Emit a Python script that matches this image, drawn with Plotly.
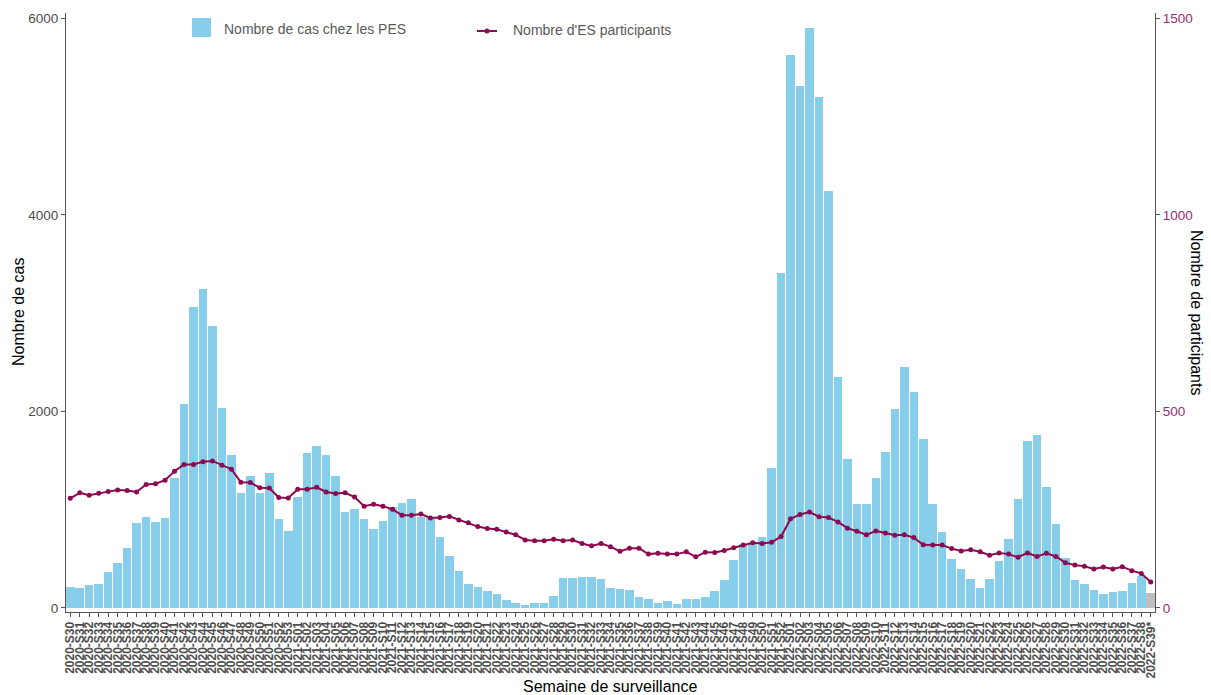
import plotly.graph_objects as go

# Surveillance weeks: 2020-S30 .. 2020-S53, 2021-S01 .. 2021-S52, 2022-S01 .. 2022-S39 (provisional)
weeks = ([f"2020-S{w:02d}" for w in range(30, 54)]
         + [f"2021-S{w:02d}" for w in range(1, 53)]
         + [f"2022-S{w:02d}" for w in range(1, 39)]
         + ["2022-S39*"])

# Weekly number of cases among staff (PES)
cases = [
    215, 205, 234, 244, 366, 454, 613, 868, 929, 875,
    912, 1320, 2072, 3058, 3244, 2865, 2037, 1556, 1166, 1342,
    1166, 1370, 905, 780,
    1129, 1580, 1651, 1556, 1342, 973, 1007, 908, 807, 885,
    1030, 1071, 1105, 922, 912, 725, 532, 376, 244, 214,
    173, 139, 78, 51, 31, 51, 51, 122, 305, 305,
    315, 315, 295, 200, 190, 183, 112, 95, 51, 68,
    41, 95, 95, 112, 173, 285, 488, 650, 650, 722,
    1428, 3404,
    5625, 5310, 5905, 5196, 4240, 2350, 1520, 1055, 1055, 1325,
    1583, 2026, 2455, 2200, 1724, 1055, 773, 499, 399, 290,
    201, 294, 473, 700, 1108, 1698, 1758, 1234, 853, 510,
    282, 245, 184, 139, 167, 177, 252, 330, 156,
]

# Weekly number of participating facilities (ES)
participants = [
    279, 293, 287, 292, 296, 300, 299, 295, 314, 316,
    325, 348, 365, 365, 372, 374, 363, 353, 320, 319,
    306, 305, 281, 280,
    302, 302, 307, 295, 291, 293, 282, 259, 264, 259,
    251, 236, 236, 239, 229, 230, 233, 224, 217, 207,
    202, 200, 193, 186, 173, 171, 171, 175, 171, 173,
    164, 158, 164, 156, 144, 152, 152, 137, 139, 137,
    137, 143, 130, 142, 141, 146, 153, 160, 166, 164,
    167, 182,
    227, 238, 244, 232, 230, 219, 203, 195, 186, 196,
    191, 185, 186, 179, 161, 160, 160, 151, 145, 148,
    143, 134, 140, 137, 129, 140, 131, 139, 131, 115,
    109, 106, 99, 104, 99, 105, 95, 88, 66,
]

x_idx = list(range(len(weeks)))

BAR_BLUE = "#87CEEB"
BAR_GREY = "#BEBEBE"
LINE_COL = "#8B0A50"
AXIS_COL = "#4D4D4D"
FONT = "Liberation Sans, Arial, sans-serif"

bar_colors = [BAR_BLUE] * (len(weeks) - 1) + [BAR_GREY]

W, H = 1211, 695
L, R, T, B = 66, 56, 13, 83
plot_w = W - L - R
plot_h = H - T - B


def px_x(p):
    return (p - L) / plot_w


def px_y(p):
    return 1 - (p - T) / plot_h


fig = go.Figure()

fig.add_trace(go.Bar(
    x=x_idx, y=cases, width=0.9,
    marker=dict(color=bar_colors, line=dict(width=0)),
    name="Nombre de cas chez les PES", showlegend=False,
    yaxis="y",
))

fig.add_trace(go.Scatter(
    x=x_idx, y=participants, mode="lines+markers",
    line=dict(color=LINE_COL, width=2),
    marker=dict(color=LINE_COL, size=5),
    name="Nombre d'ES participants", showlegend=False,
    yaxis="y2",
))

y_max_left = 6054
y_min_left = -41

fig.update_layout(
    width=W, height=H,
    margin=dict(l=L, r=R, t=T, b=B, autoexpand=False),
    paper_bgcolor="white", plot_bgcolor="white",
    font=dict(family=FONT, color=AXIS_COL),
    bargap=0,
    xaxis=dict(
        range=[-0.45, len(weeks) - 0.55],
        tickmode="array", tickvals=x_idx, ticktext=weeks,
        tickangle=-90,
        tickfont=dict(size=12, color=AXIS_COL, family=FONT, weight="bold"),
        ticks="outside", ticklen=4, tickcolor="#555555", tickwidth=1,
        showline=True, linecolor="#555555", linewidth=1,
        showgrid=False, zeroline=False, fixedrange=True,
    ),
    yaxis=dict(
        range=[y_min_left, y_max_left],
        tickmode="array", tickvals=[0, 2000, 4000, 6000],
        tickfont=dict(size=13.5, color=AXIS_COL, family=FONT),
        ticks="outside", ticklen=4, tickcolor="#555555",
        showline=True, linecolor="#555555", linewidth=1,
        showgrid=False, zeroline=False,
    ),
    yaxis2=dict(
        overlaying="y", side="right",
        range=[y_min_left / 4, y_max_left / 4],
        tickmode="array", tickvals=[0, 500, 1000, 1500],
        tickfont=dict(size=13.5, color="#9E2A72", family=FONT),
        ticks="outside", ticklen=4, tickcolor="#555555",
        showline=True, linecolor="#555555", linewidth=1,
        showgrid=False, zeroline=False,
    ),
)

annotations = [
    dict(text="Nombre de cas", x=px_x(18), y=px_y(312), xref="paper", yref="paper",
         textangle=-90, showarrow=False, font=dict(size=16, color="black", family=FONT),
         xanchor="center", yanchor="middle"),
    dict(text="Nombre de participants", x=px_x(1197), y=px_y(312), xref="paper", yref="paper",
         textangle=90, showarrow=False, font=dict(size=16, color="black", family=FONT),
         xanchor="center", yanchor="middle"),
    dict(text="Semaine de surveillance", x=px_x(610), y=px_y(686), xref="paper", yref="paper",
         showarrow=False, font=dict(size=16, color="black", family=FONT),
         xanchor="center", yanchor="middle"),
    dict(text="Nombre de cas chez les PES", x=px_x(222), y=px_y(29), xref="paper", yref="paper",
         showarrow=False, font=dict(size=14, color="#595959", family=FONT),
         xanchor="left", yanchor="middle"),
    dict(text="Nombre d'ES participants", x=px_x(511), y=px_y(30), xref="paper", yref="paper",
         showarrow=False, font=dict(size=14, color="#595959", family=FONT),
         xanchor="left", yanchor="middle"),
]

shapes = [
    # legend key: bars
    dict(type="rect", xref="paper", yref="paper",
         x0=px_x(192), x1=px_x(211), y0=px_y(18), y1=px_y(37),
         fillcolor=BAR_BLUE, line=dict(width=0)),
    # legend key: line with marker
    dict(type="line", xref="paper", yref="paper",
         x0=px_x(477), x1=px_x(497), y0=px_y(31), y1=px_y(31),
         line=dict(color=LINE_COL, width=2)),
    dict(type="circle", xref="paper", yref="paper",
         x0=px_x(484.5), x1=px_x(489.5), y0=px_y(28.5), y1=px_y(33.5),
         fillcolor=LINE_COL, line=dict(width=0)),
]

fig.update_layout(annotations=annotations, shapes=shapes)

fig.write_html("out.html")
